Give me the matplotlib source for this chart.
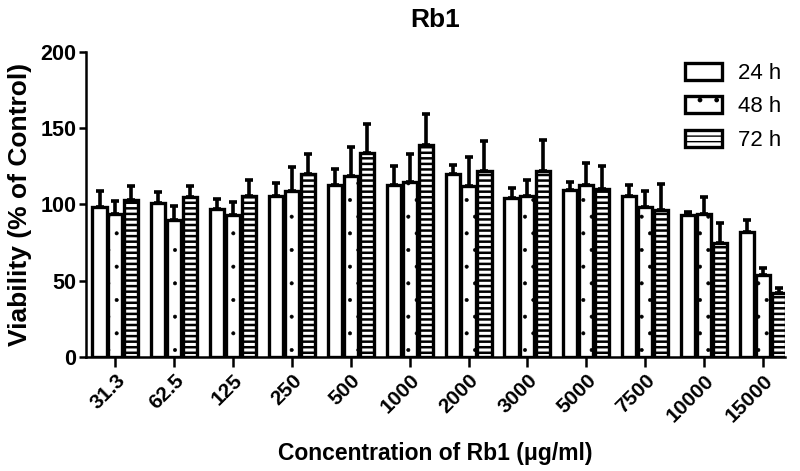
import numpy as np
import matplotlib.pyplot as plt

plt.rcParams['font.family'] = ['Liberation Sans', 'DejaVu Sans']

concentrations = ['31.3', '62.5', '125', '250', '500', '1000', '2000',
                  '3000', '5000', '7500', '10000', '15000']

# mean viability (% of control)
v24 = [98, 101, 97, 105.5, 113, 112.5, 120, 104.5, 109.5, 105.5, 93, 82]
v48 = [94, 90, 93, 109, 118.5, 115, 112, 105.5, 112.5, 98, 94, 54]
v72 = [103, 105, 105.5, 120, 134, 139, 122, 122, 110, 96.5, 74.5, 42]

# upper error (SD)
e24 = [11, 7, 6.5, 8.5, 10, 12.5, 6, 6.5, 5, 7.5, 2, 7.5]
e48 = [8, 9, 8.5, 15.5, 19, 18, 19, 10.5, 14.5, 10.5, 11, 4.5]
e72 = [9, 7, 10.5, 13, 19, 20, 19.5, 20, 15, 17, 13, 3.5]

x = np.arange(len(concentrations))
w = 0.24
step = 0.27

fig = plt.figure(figsize=(8, 4.71), dpi=100)
ax = fig.add_axes([0.1075, 0.242, 0.874, 0.648])

series = [(v24, e24, '', '24 h', 1.0), (v48, e48, '.', '48 h', 0.4),
          (v72, e72, '---', '72 h', 1.8)]
for i, (vals, errs, hatch, lab, hlw) in enumerate(series):
    pos = x + (i - 1) * step
    ax.errorbar(pos, vals, yerr=[np.zeros(len(errs)), errs], fmt='none',
                ecolor='black', elinewidth=2.6, capsize=3, capthick=2.6, zorder=1)
    with plt.rc_context({'hatch.linewidth': hlw}):
        ax.bar(pos, vals, width=w, facecolor='white', edgecolor='black',
               linewidth=2.4, hatch=hatch, label=lab, zorder=2)

ax.set_xlim(-0.5, 11.38)
ax.set_ylim(0, 200)
ax.set_yticks([0, 50, 100, 150, 200])
ax.set_xticks(x)
ax.set_xticklabels(concentrations, rotation=45, ha='right', rotation_mode='anchor')

for s in ['top', 'right']:
    ax.spines[s].set_visible(False)
for s in ['left', 'bottom']:
    ax.spines[s].set_linewidth(1.8)
ax.tick_params(axis='y', width=1.8, length=5, labelsize=15.5, pad=2)
ax.tick_params(axis='x', width=1.8, length=7, labelsize=15, pad=3)
for t in ax.get_xticklabels() + ax.get_yticklabels():
    t.set_fontweight('bold')

ax.set_title('Rb1', fontsize=19, fontweight='bold', pad=18)
ax.set_xlabel('Concentration of Rb1 (μg/ml)', fontsize=16.5, fontweight='bold', labelpad=12)
ax.set_ylabel('Viability (% of Control)', fontsize=19, fontweight='bold', labelpad=6)

ax.legend(loc='upper right', frameon=False, fontsize=16, handlelength=1.7,
          handleheight=0.8, labelspacing=0.55, handletextpad=0.7,
          bbox_to_anchor=(1.023, 1.03))

fig.savefig('out.png', dpi=100)
